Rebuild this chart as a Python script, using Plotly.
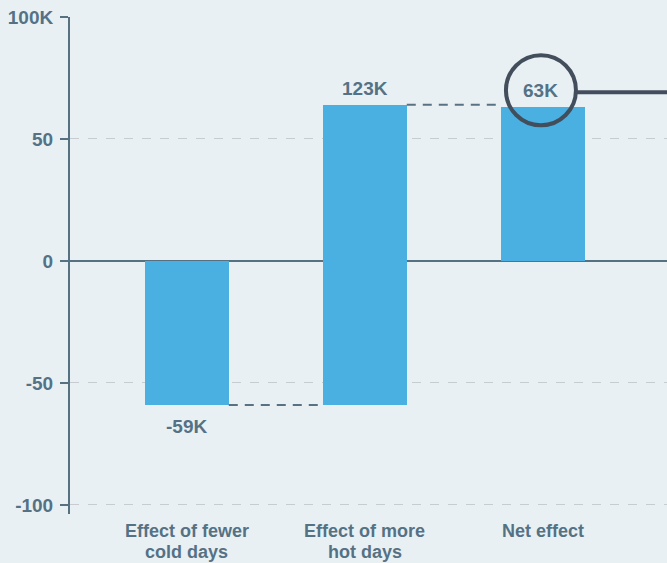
import plotly.graph_objects as go

# Waterfall: change in deaths from fewer cold days vs. more hot days
categories = ["Effect of fewer<br>cold days", "Effect of more<br>hot days", "Net effect"]
changes = [-59, 123]          # thousands, relative steps
net_effect = 63               # thousands, total
labels = ["-59K", "123K", "63K"]

y_ticks = [-100, -50, 0, 50, 100]
y_tick_text = ["-100", "-50", "0", "50", "100K"]

BG = "#e9f0f4"
BAR = "#4ab0e2"
TEXT = "#557285"
AXIS = "#557182"
DARK = "#434e5c"
FONT = "Liberation Sans, Arial, sans-serif"

bar_width = 0.47
xs = list(range(len(categories)))

# bases and heights of the floating bars
bases = [0, changes[0], 0]
heights = [changes[0], changes[1], net_effect]
ends = [bases[i] + heights[i] for i in range(3)]

fig = go.Figure()
fig.add_trace(go.Bar(
    x=xs, y=heights, base=bases, width=bar_width,
    marker=dict(color=BAR, line=dict(width=0)),
    hoverinfo="skip", showlegend=False,
))

# dashed connectors between consecutive bar ends
for i in range(2):
    level = ends[i]
    fig.add_trace(go.Scatter(
        x=[xs[i] + bar_width / 2, xs[i + 1] - bar_width / 2],
        y=[level, level], mode="lines",
        line=dict(color="#5a7181", width=2, dash="9px,7px"),
        hoverinfo="skip", showlegend=False,
    ))

label_font = dict(family=FONT, size=19, color=TEXT, weight="bold")

# value labels
fig.add_annotation(x=xs[0], y=ends[0], text=labels[0], showarrow=False,
                   yshift=-22, font=label_font)
fig.add_annotation(x=xs[1], y=ends[1], text=labels[1], showarrow=False,
                   yshift=16, font=label_font)
fig.add_annotation(x=xs[2], y=ends[2], text=labels[2], showarrow=False,
                   yshift=17, xshift=-2, font=label_font)

# category labels under the axis, one line per row with tight leading
for i, cat in enumerate(categories):
    for j, line in enumerate(cat.split("<br>")):
        fig.add_annotation(x=xs[i], xref="x", y=0, yref="paper",
                           text=line, showarrow=False,
                           yanchor="middle", yshift=-17 - 21 * j,
                           font=dict(family=FONT, size=18, color=TEXT, weight="bold"))

# highlight ring around the net value and its leader line
fig.add_shape(type="circle", xref="x", yref="y",
              xsizemode="pixel", ysizemode="pixel",
              xanchor=xs[2], yanchor=net_effect,
              x0=-37, x1=33, y0=-18, y1=52,
              line=dict(color=DARK, width=4), fillcolor="rgba(0,0,0,0)")
fig.add_shape(type="line", xref="x", yref="y",
              xsizemode="pixel", ysizemode="pixel",
              xanchor=xs[2], yanchor=net_effect,
              x0=33, x1=160, y0=15, y1=15,
              line=dict(color=DARK, width=4))

fig.update_layout(
    width=667, height=563,
    margin=dict(l=70, r=0, t=17, b=49),
    paper_bgcolor=BG, plot_bgcolor=BG,
    bargap=0,
    font=dict(family=FONT, color=TEXT),
    xaxis=dict(
        range=[-0.657, 2.697],
        showticklabels=False,
        showgrid=False, zeroline=False, showline=False, ticks="",
        fixedrange=True,
    ),
    yaxis=dict(
        range=[-103.7, 100],
        tickvals=y_ticks, ticktext=y_tick_text,
        showgrid=True, gridcolor="#c7ccd0", griddash="dash", gridwidth=1,
        zeroline=True, zerolinecolor=AXIS, zerolinewidth=1.5,
        showline=True, linecolor=AXIS, linewidth=2,
        ticks="outside", ticklen=8, tickcolor=AXIS, tickwidth=2,
        tickfont=dict(family=FONT, size=19, color=TEXT, weight="bold"),
        ticklabelstandoff=3,
        fixedrange=True,
    ),
)

fig.write_html("out.html")
